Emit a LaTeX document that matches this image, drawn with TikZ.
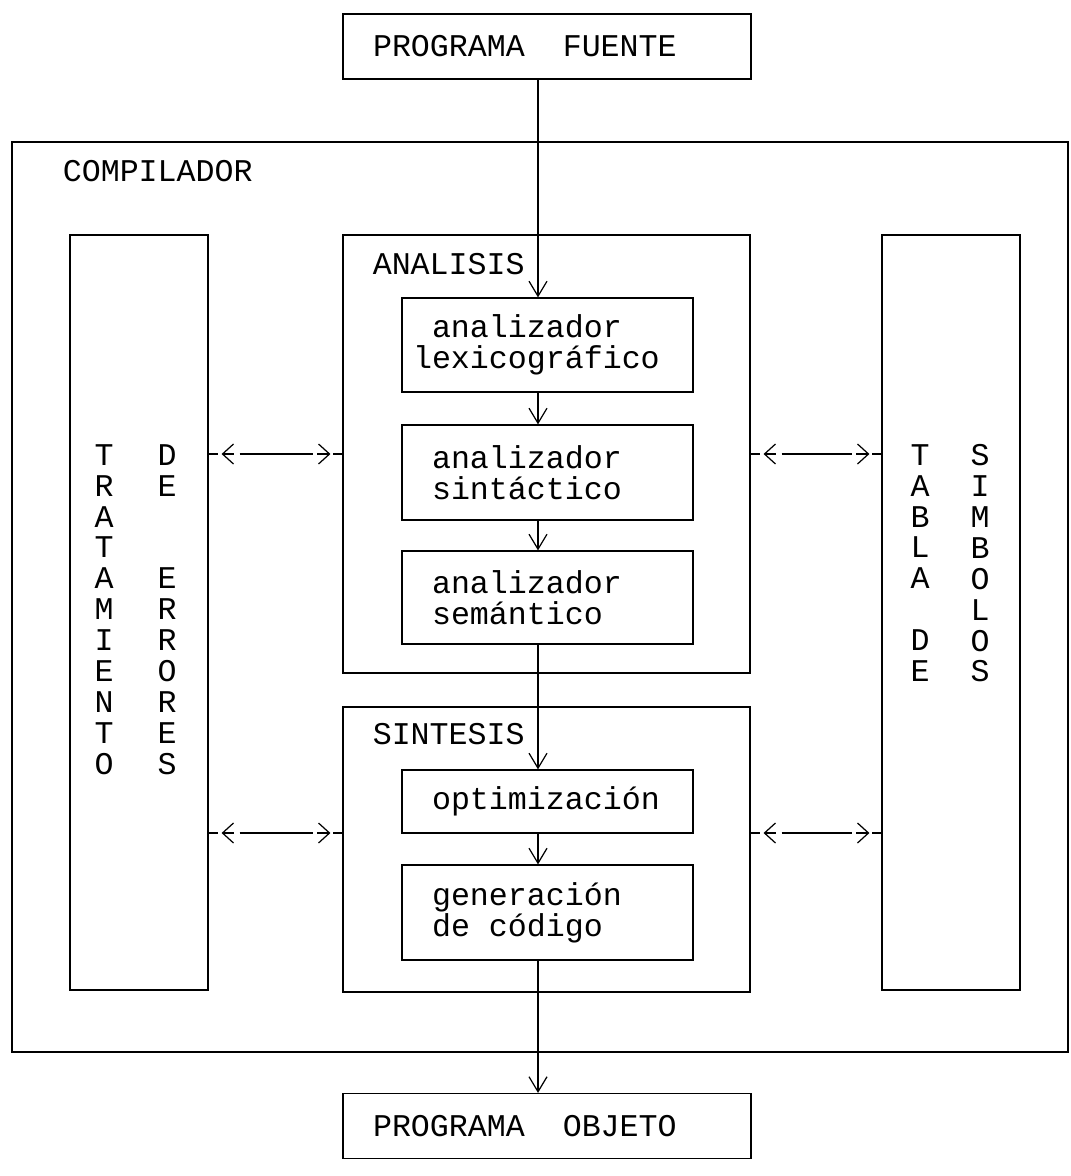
\documentclass[tikz,border=0pt]{standalone}
\usepackage{fontspec}
\newfontfamily\plotter{Liberation Mono}
\newcommand\chsp{\hphantom{A}}
\usetikzlibrary{arrows.meta,calc}

\tikzset{
  plot/.style={font={\plotter\fontsize{18pt}{17.6pt}\selectfont\lineskiplimit=-20pt}},
  frame/.style={draw, line width=0.7pt, inner sep=0pt},
  stage/.style={frame, plot, align=left, text width=4.62cm, minimum width=5.82cm},
  ends/.style={frame, plot, align=left, text width=6.96cm, minimum width=8.16cm, minimum height=1.3cm},
  column/.style={plot, align=center, inner sep=0pt, anchor=north},
  title/.style={plot, inner sep=0pt, anchor=west},
  stub/.style={line width=0.7pt},
  flow/.style={line width=0.7pt, -{Straight Barb[length=0.3cm, width=0.36cm]}},
  tip/.style={line width=0.7pt, -{Straight Barb[length=0.22cm, width=0.4cm]}},
}

\begin{document}
\begin{tikzpicture}[x=0.02cm, y=-0.02cm]
\useasboundingbox (0,0) rectangle (1071,1176);

% Frames
\node[frame, minimum width=21.12cm, minimum height=18.2cm] (comp) at (540,597) {};
\node[frame, minimum width=2.76cm, minimum height=15.1cm] (trat) at (139,612.5) {};
\node[frame, minimum width=2.76cm, minimum height=15.1cm] (tabla) at (951,612.5) {};
\node[frame, minimum width=8.14cm, minimum height=8.76cm] (anal) at (546.5,454) {};
\node[frame, minimum width=8.14cm, minimum height=5.7cm] (sinte) at (546.5,849.5) {};

% Frame titles
\node[title] (tcomp) at ([shift={(1.02cm,-0.6cm)}]comp.north west) {COMPILADOR};
\node[title] (tanal) at ([shift={(0.6cm,-0.6cm)}]anal.north west) {ANALISIS};
\node[title] (tsinte) at ([shift={(0.6cm,-0.56cm)}]sinte.north west) {SINTESIS};

% Side columns, one letter per line
\node[column] (vtrat) at (104,444) {T\\R\\A\\T\\A\\M\\I\\E\\N\\T\\O};
\node[column] (verr) at (167,444) {D\\E\\\mbox{}\\\mbox{}\\E\\R\\R\\O\\R\\E\\S};
\node[column] (vtab) at (920,444) {T\\A\\B\\L\\A\\\mbox{}\\D\\E};
\node[column] (vsim) at (980,444) {S\\I\\M\\B\\O\\L\\O\\S};

% Stages
\node[stage, text width=5.38cm, minimum height=1.88cm] (lexico) at (547.5,345) {\chsp analizador\\lexicográfico};
\node[stage, minimum height=1.9cm] (sintac) at (547.5,472.5) {analizador\\sintáctico};
\node[stage, minimum height=1.86cm] (seman) at (547.5,597.5) {analizador\\semántico};
\node[stage, minimum height=1.26cm] (optim) at (547.5,801.5) {optimización};
\node[stage, minimum height=1.9cm] (gener) at (547.5,912.5) {generación\\de\chsp código};

% Input and output
\node[ends] (fuente) at (547,46.5) {PROGRAMA\chsp\chsp FUENTE};
\node[ends] (objeto) at (547,1126) {PROGRAMA\chsp\chsp OBJETO};

% Main flow
\coordinate (spine) at (538,0);
\draw[flow] (fuente.south -| spine) -- (lexico.north -| spine);
\draw[flow] (lexico.south -| spine) -- (sintac.north -| spine);
\draw[flow] (sintac.south -| spine) -- (seman.north -| spine);
\draw[flow] (seman.south -| spine) -- (optim.north -| spine);
\draw[flow] (optim.south -| spine) -- (gener.north -| spine);
\draw[flow] (gener.south -| spine) -- (objeto.north -| spine);

% Two-way links to the side columns: -<----->-
\coordinate (upper) at (0,454);
\coordinate (lower) at (0,833);
\foreach \src/\dst/\lvl in {trat/anal/upper, trat/sinte/lower, anal/tabla/upper, sinte/tabla/lower} {
  \path (\src.east |- \lvl) coordinate (p) (\dst.west |- \lvl) coordinate (q);
  \draw[stub] (p) -- ($(p)!0.18cm!(q)$);
  \draw[stub] (q) -- ($(q)!0.18cm!(p)$);
  \draw[stub, shorten <=0.62cm, shorten >=0.58cm] (p) -- (q);
  \draw[tip] ($(p)!0.5cm!(q)$) -- ($(p)!0.26cm!(q)$);
  \draw[tip] ($(q)!0.5cm!(p)$) -- ($(q)!0.24cm!(p)$);
}
\end{tikzpicture}
\end{document}
